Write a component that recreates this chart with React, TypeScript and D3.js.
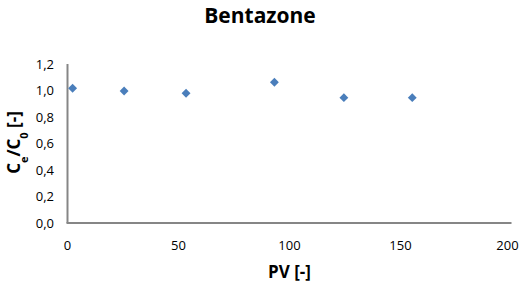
import React, { useRef, useEffect } from "react";
import * as d3 from "d3";

const pv = [2.3, 25.5, 53.4, 93.2, 124.5, 155.3];
const ratio = [1.017, 0.996, 0.979, 1.062, 0.946, 0.946];
const xTicks = [0, 50, 100, 150, 200];
const yTicks = [0, 0.2, 0.4, 0.6, 0.8, 1.0, 1.2];

export default function App() {
  const svgRef = useRef<SVGSVGElement>(null);

  useEffect(() => {
    const width = 525;
    const height = 299;
    const font = "'Open Sans', 'Noto Sans', sans-serif";

    d3.select(svgRef.current).selectAll("*").remove();
    const svg = d3.select(svgRef.current).attr("width", width).attr("height", height);

    const x = d3.scaleLinear().domain([0, 200]).range([67.5, 511.5]);
    const y = d3.scaleLinear().domain([0, 1.2]).range([223, 64]);
    const fmt = (v: number) => d3.format(".1f")(v).replace(".", ",");

    // axes lines
    svg.append("line")
      .attr("x1", x(0)).attr("x2", x(0)).attr("y1", y(1.2)).attr("y2", y(0))
      .attr("stroke", "#868686").attr("stroke-width", 2);
    svg.append("line")
      .attr("x1", x(0) - 1).attr("x2", x(200)).attr("y1", y(0)).attr("y2", y(0))
      .attr("stroke", "#868686").attr("stroke-width", 2);

    // tick labels
    svg.append("g").selectAll("text").data(yTicks).join("text")
      .attr("x", 54).attr("y", d => y(d)).attr("dy", "0.35em")
      .attr("text-anchor", "end")
      .style("font-family", font).style("font-size", "13px").style("fill", "#000")
      .text(d => fmt(d));

    // last label pulled in a bit so it stays inside the chart
    svg.append("g").selectAll("text").data(xTicks).join("text")
      .attr("x", d => (d === 200 ? x(d) - 4 : x(d))).attr("y", 245).attr("dy", "0.35em")
      .attr("text-anchor", "middle")
      .style("font-family", font).style("font-size", "13px").style("fill", "#000")
      .text(d => d);

    // points
    const diamond = d3.symbol().type(d3.symbolDiamond2).size(50);
    svg.append("g").selectAll("path").data(pv).join("path")
      .attr("transform", (d, i) => `translate(${x(d)},${y(ratio[i])})`)
      .attr("d", diamond)
      .attr("fill", "#4a7ebb");

    // title
    svg.append("text")
      .attr("x", 260).attr("y", 16).attr("dy", "0.35em")
      .attr("text-anchor", "middle")
      .style("font-family", font).style("font-size", "21px").style("font-weight", "bold")
      .text("Bentazone");

    // x label
    svg.append("text")
      .attr("x", x(100)).attr("y", 272).attr("dy", "0.35em")
      .attr("text-anchor", "middle")
      .style("font-family", font).style("font-size", "17px").style("font-weight", "bold")
      .text("PV [-]");

    // y label
    const yl = svg.append("text")
      .attr("transform", `translate(14,${y(0.6) - 1}) rotate(-90)`)
      .attr("dy", "0.35em")
      .attr("text-anchor", "middle")
      .style("font-family", font).style("font-size", "17px").style("font-weight", "bold");
    yl.append("tspan").text("C");
    yl.append("tspan").attr("baseline-shift", "sub").style("font-size", "11px").text("e");
    yl.append("tspan").text("/C");
    yl.append("tspan").attr("baseline-shift", "sub").style("font-size", "11px").text("0");
    yl.append("tspan").text(" [-]");
  }, []);

  return (
    <div>
      <svg
        ref={svgRef}
        style={{ position: "absolute", left: 0, top: 0, display: "block" }}
      ></svg>
    </div>
  );
}
